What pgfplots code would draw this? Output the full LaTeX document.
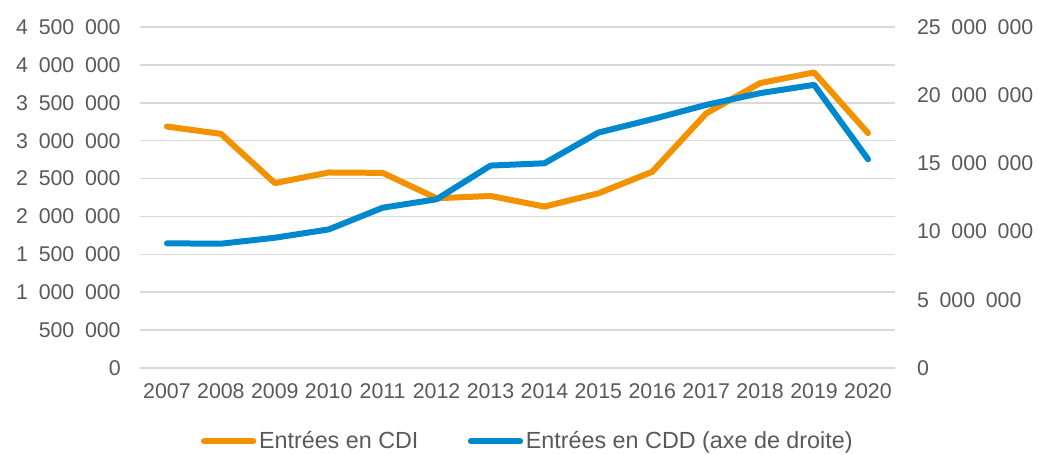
\documentclass[border=0pt]{standalone}
\usepackage{pgfplots}
\pgfplotsset{compat=1.18}
\usepackage{fontspec}
\setmainfont{Liberation Sans}
\definecolor{cdi}{RGB}{243,146,0}
\definecolor{cdd}{RGB}{0,136,206}
\definecolor{txt}{RGB}{89,89,89}
\definecolor{gridc}{RGB}{217,217,217}
\begin{document}
\begin{tikzpicture}
\pgfplotsset{every axis/.append style={
  width=566.25pt, height=255.75pt, scale only axis,
  xmin=2006.5, xmax=2020.5,
  font=\fontsize{16}{18}\selectfont,
  tick label style={text=txt},
  axis line style={draw=none},
  major tick length=0pt,
  scaled y ticks=false,
  /pgf/number format/assume math mode=true,
  /pgf/number format/fixed,
  /pgf/number format/1000 sep={\kern0.5em},
}}
\begin{axis}[name=ax,
  ymin=0, ymax=4500000, ytick={0,500000,...,4500000},
  ymajorgrids, grid style={gridc, line width=1.1pt},
  xtick={2007,...,2020},
  xticklabel style={/pgf/number format/1000 sep={}, yshift=-8pt},
  yticklabel style={xshift=-11pt},
]
\addplot[cdi, line width=4.5pt, line cap=round, line join=round] coordinates {
(2007,3186000) (2008,3090000) (2009,2440000) (2010,2580000) (2011,2575000)
(2012,2240000) (2013,2270000) (2014,2130000) (2015,2305000) (2016,2590000)
(2017,3360000) (2018,3760000) (2019,3900000) (2020,3100000)};
\end{axis}
\begin{axis}[
  axis y line*=right, axis x line=none,
  ymin=0, ymax=25000000, ytick={0,5000000,...,25000000},
  yticklabel style={xshift=13pt},
  legend style={draw=none, fill=none, at={(0.5,0)}, anchor=center, yshift=-55pt, xshift=8pt,
    font=\fontsize{17.5}{20}\selectfont, text=txt,
    /tikz/every even column/.append style={column sep=35pt},
    inner sep=0pt, cells={anchor=west}},
  legend columns=2,
  legend image code/.code={\draw[#1] (0pt,0pt) -- (37pt,0pt);},
]
\addlegendimage{cdi, line width=4.5pt, line cap=round}
\addlegendentry{Entrées en CDI}
\addplot[cdd, line width=4.5pt, line cap=round, line join=round] coordinates {
(2007,9140000) (2008,9110000) (2009,9550000) (2010,10160000) (2011,11750000)
(2012,12370000) (2013,14840000) (2014,15010000) (2015,17260000) (2016,18240000)
(2017,19290000) (2018,20150000) (2019,20760000) (2020,15300000)};
\addlegendentry{Entrées en CDD (axe de droite)}
\end{axis}
\pgfresetboundingbox
\path[use as bounding box] ([xshift=-105pt,yshift=-65.25pt]ax.south west) rectangle ([xshift=107.25pt,yshift=20.25pt]ax.north east);
\end{tikzpicture}
\end{document}
